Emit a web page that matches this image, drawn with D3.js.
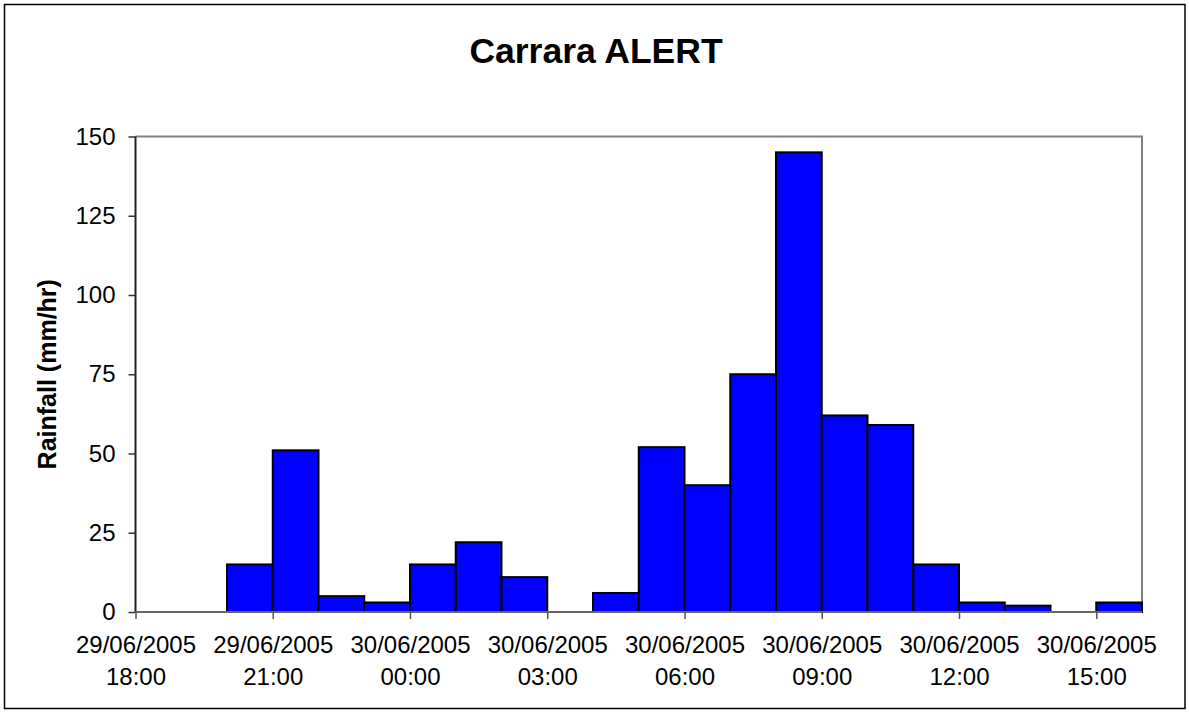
<!DOCTYPE html>
<html>
<head>
<meta charset="utf-8">
<script src="https://cdn.jsdelivr.net/npm/d3@7"></script>
<style>
body { margin: 0; background: #fff; }
text { font-family: "Liberation Sans", Arial, sans-serif; fill: #000; }
</style>
</head>
<body>
<div id="vis"></div>
<script>
// hourly rainfall, each bar starts at the given hour
var hours = ["2005-06-29T18:00", "2005-06-29T19:00", "2005-06-29T20:00", "2005-06-29T21:00",
             "2005-06-29T22:00", "2005-06-29T23:00", "2005-06-30T00:00", "2005-06-30T01:00",
             "2005-06-30T02:00", "2005-06-30T03:00", "2005-06-30T04:00", "2005-06-30T05:00",
             "2005-06-30T06:00", "2005-06-30T07:00", "2005-06-30T08:00", "2005-06-30T09:00",
             "2005-06-30T10:00", "2005-06-30T11:00", "2005-06-30T12:00", "2005-06-30T13:00",
             "2005-06-30T14:00", "2005-06-30T15:00"];
var rainfall = [0, 0, 15, 51, 5, 3, 15, 22, 11, 0, 6, 52, 40, 75, 145, 62, 59, 15, 3, 2, 0, 3];
var xTicks = ["2005-06-29T18:00", "2005-06-29T21:00", "2005-06-30T00:00", "2005-06-30T03:00",
              "2005-06-30T06:00", "2005-06-30T09:00", "2005-06-30T12:00", "2005-06-30T15:00"];
var yTicks = [0, 25, 50, 75, 100, 125, 150];
var xStart = "2005-06-29T18:00", xEnd = "2005-06-30T16:00";

var W = 1189, H = 713;
var margin = { top: 136.5, left: 135.5, right: 47, bottom: 101 };

var parse = function(s) { return new Date(s + ":00Z"); };
var fmtDate = d3.utcFormat("%d/%m/%Y");
var fmtTime = d3.utcFormat("%H:%M");

var data = hours.map(function(h, i) {
    return { start: parse(h), end: d3.utcHour.offset(parse(h), 1), value: rainfall[i] };
});

var svg = d3.select("#vis").append("svg")
    .attr("width", W)
    .attr("height", H);

// outer chart frame
svg.append("rect")
    .attr("x", 4.5).attr("y", 4.5)
    .attr("width", W - 8.5).attr("height", H - 9)
    .attr("fill", "#fff")
    .attr("stroke", "#000")
    .attr("stroke-width", 1.5);

var xscale = d3.scaleUtc()
    .domain([parse(xStart), parse(xEnd)])
    .range([margin.left, W - margin.right]);

var yscale = d3.scaleLinear()
    .domain([0, 150])
    .range([H - margin.bottom, margin.top]);

// plot area border (top + right in gray)
svg.append("path")
    .attr("d", "M" + xscale.range()[0] + "," + yscale(150) + "H" + xscale.range()[1] + "V" + yscale(0))
    .attr("fill", "none")
    .attr("stroke", "#808080")
    .attr("stroke-width", 2);

svg.append("text")
    .attr("x", 596)
    .attr("y", 63)
    .attr("text-anchor", "middle")
    .style("font-size", "35.5px")
    .style("font-weight", "bold")
    .text("Carrara ALERT");

// bars
svg.selectAll(".bar")
    .data(data.filter(function(d) { return d.value > 0; }))
    .enter().append("rect")
    .attr("class", "bar")
    .attr("x", function(d) { return xscale(d.start); })
    .attr("width", function(d) { return xscale(d.end) - xscale(d.start); })
    .attr("y", function(d) { return yscale(d.value); })
    .attr("height", function(d) { return yscale(0) - yscale(d.value); })
    .attr("fill", "#0000ff")
    .attr("stroke", "#000")
    .attr("stroke-width", 2);

// y axis
var yaxis = d3.axisLeft(yscale)
    .tickValues(yTicks)
    .tickSize(7)
    .tickPadding(13);

var yg = svg.append("g")
    .attr("transform", "translate(" + margin.left + ",0)")
    .call(yaxis);
yg.select(".domain").attr("stroke", "#222").attr("stroke-width", 2).attr("d", "M0," + yscale(150) + "V" + yscale(0));
yg.selectAll(".tick line").attr("stroke", "#333").attr("stroke-width", 1.5);
yg.selectAll(".tick text")
    .style("font-size", "24px")
    .style("font-family", "'Liberation Sans', Arial, sans-serif")
    .attr("fill", "#000");

// x axis
var xaxis = d3.axisBottom(xscale)
    .tickValues(xTicks.map(parse))
    .tickSize(7)
    .tickFormat("");

var xg = svg.append("g")
    .attr("transform", "translate(0," + yscale(0) + ")")
    .call(xaxis);
xg.select(".domain").attr("stroke", "#666").attr("stroke-width", 2).attr("d", "M" + xscale.range()[0] + ",0H" + xscale.range()[1]);
xg.selectAll(".tick line").attr("stroke", "#555").attr("stroke-width", 1.5);

var lbl = xg.selectAll(".tick").append("text")
    .attr("text-anchor", "middle")
    .style("font-size", "24px")
    .style("font-family", "'Liberation Sans', Arial, sans-serif")
    .attr("fill", "#000");
lbl.append("tspan")
    .attr("x", 0).attr("y", 41)
    .text(function(d) { return fmtDate(d); });
lbl.append("tspan")
    .attr("x", 0).attr("y", 73)
    .text(function(d) { return fmtTime(d); });

// y axis title
svg.append("text")
    .attr("transform", "translate(56," + ((yscale(0) + yscale(150)) / 2) + ") rotate(-90)")
    .attr("text-anchor", "middle")
    .style("font-size", "25px")
    .style("font-weight", "bold")
    .text("Rainfall (mm/hr)");
</script>
</body>
</html>
